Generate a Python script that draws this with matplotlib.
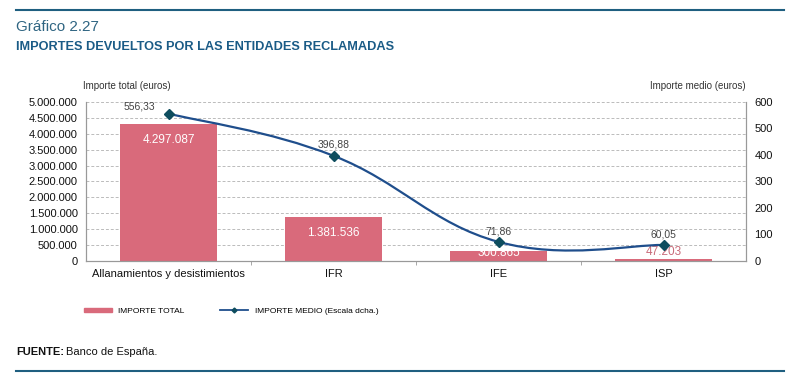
import matplotlib.pyplot as plt
import numpy as np
from matplotlib.path import Path
from matplotlib.patches import PathPatch, Patch
from matplotlib.lines import Line2D
from matplotlib.ticker import FuncFormatter

plt.rcParams['font.family'] = ['Liberation Sans', 'DejaVu Sans']

# datos
categorias = ["Allanamientos y desistimientos", "IFR", "IFE", "ISP"]
importe_total = [4297087, 1381536, 300865, 47203]
importe_medio = [556.33, 396.88, 71.86, 60.05]

BAR = "#d96a7b"
LINE = "#1f4e8c"
MARK = "#0e4d5e"
GRIS = "#333333"

fig = plt.figure(figsize=(8, 3.82), dpi=100)
ax = fig.add_axes([0.1075, 0.317, 0.825, 0.416])
ax2 = ax.twinx()

x = np.arange(len(categorias))
ax.bar(x, importe_total, width=0.59, color=BAR, zorder=2)
ax.set_ylim(0, 5000000)
ax.set_xlim(-0.5, len(categorias) - 0.5)
ax.set_yticks(np.arange(0, 5000001, 500000))
ax.yaxis.set_major_formatter(FuncFormatter(lambda v, p: f"{int(v):,}".replace(",", ".")))
ax.grid(axis='y', linestyle=(0, (3, 2)), color="#bbbbbb", linewidth=0.7, zorder=0)
ax.set_axisbelow(True)
ax.set_xticks(x)
ax.set_xticklabels(categorias, fontsize=8, color="#111111")
ax.set_xticks(np.arange(0.5, len(categorias) - 1), minor=True)
ax.tick_params(axis='x', which='major', length=0, pad=6)
ax.tick_params(axis='x', which='minor', length=3, color="#999999")
ax.tick_params(axis='y', length=0, labelsize=8, pad=6, colors="#111111")

for s in ['top']:
    ax.spines[s].set_visible(False)
    ax2.spines[s].set_visible(False)
for s in ['left', 'bottom', 'right']:
    ax.spines[s].set_color("#999999")
    ax2.spines[s].set_color("#999999")

# etiquetas de barras
for i, v in enumerate(importe_total):
    txt = f"{v:,}".replace(",", ".")
    if v > 1000000:
        ax.text(i, v - 300000, txt, ha='center', va='top', color='white', fontsize=8.5)
    elif v > 200000:
        ax.text(i, v - 40000, txt, ha='center', va='center', color='white', fontsize=8.5)
    else:
        ax.text(i, v + 230000, txt, ha='center', va='center', color="#c86a78", fontsize=8.5)

# línea suavizada (Catmull-Rom -> Bézier)
ax2.set_ylim(0, 600)
ax2.set_yticks(np.arange(0, 601, 100))
ax2.tick_params(axis='y', length=0, labelsize=8, pad=6, colors="#111111")
pts = np.column_stack([x, importe_medio])
ext = np.vstack([pts[0], pts, pts[-1]])
verts = [tuple(pts[0])]
codes = [Path.MOVETO]
for i in range(1, len(ext) - 2):
    p0, p1, p2, p3 = ext[i - 1], ext[i], ext[i + 1], ext[i + 2]
    c1 = p1 + (p2 - p0) / 5
    c2 = p2 - (p3 - p1) / 5
    verts += [tuple(c1), tuple(c2), tuple(p2)]
    codes += [Path.CURVE4] * 3
ax2.add_patch(PathPatch(Path(verts, codes), facecolor='none', edgecolor=LINE, lw=1.6, zorder=3))
ax2.plot(x, importe_medio, linestyle='none', marker='D', ms=5, color=MARK, zorder=4)
for i, v in enumerate(importe_medio):
    txt = f"{v:.2f}".replace(".", ",")
    if i == 0:
        ax2.text(i - 0.08, v + 8, txt, ha='right', va='bottom', fontsize=7.5, color="#444444")
    else:
        ax2.text(i, v + 22, txt, ha='center', va='bottom', fontsize=7.5, color="#444444")
fig.text(0.104, 0.775, "Importe total (euros)", fontsize=7, color=GRIS, ha='left', va='center')
fig.text(0.9325, 0.775, "Importe medio (euros)", fontsize=7, color=GRIS, ha='right', va='center')

# títulos y pie
fig.add_artist(Line2D([0.02, 0.98], [0.974, 0.974], color="#1f5f80", lw=1.5))
fig.add_artist(Line2D([0.02, 0.98], [0.029, 0.029], color="#1f5f80", lw=1.5))
fig.text(0.02, 0.930, "Gráfico 2.27", fontsize=11, color="#2f6582", va='center')
fig.text(0.02, 0.878, "IMPORTES DEVUELTOS POR LAS ENTIDADES RECLAMADAS", fontsize=9.2,
         color="#1a5b86", fontweight='bold', va='center')
fig.text(0.02, 0.078, "FUENTE:", fontsize=8, fontweight='bold', color="#111111", va='center')
fig.text(0.083, 0.078, "Banco de España.", fontsize=8, color="#111111", va='center')

# leyenda
handles = [Patch(color=BAR, label="IMPORTE TOTAL"),
           Line2D([], [], color=LINE, marker='D', ms=2.5, mfc=MARK, mec=MARK, lw=1.3,
                  label="IMPORTE MEDIO (Escala dcha.)")]
fig.legend(handles=handles, loc='center left', bbox_to_anchor=(0.095, 0.185), ncol=2,
           frameon=False, handlelength=3.4, handleheight=0.5, columnspacing=4.2,
           prop={'stretch': 'condensed', 'size': 6})

fig.savefig("out.png", dpi=100)
